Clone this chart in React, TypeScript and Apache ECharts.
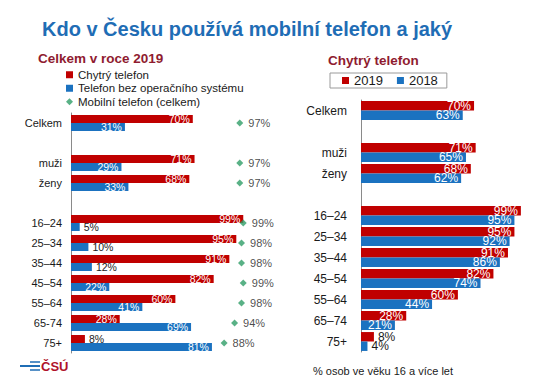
import React, { useEffect, useRef } from "react";
import * as echarts from "echarts";

const leftCategories = ["Celkem", "", "muži", "ženy", "", "16–24", "25–34", "35–44", "45–54", "55–64", "65-74", "75+"];
const rightCategories = ["Celkem", "", "muži", "ženy", "", "16–24", "25–34", "35–44", "45–54", "55–64", "65–74", "75+"];
const smart2019 = [70, null, 71, 68, null, 99, 95, 91, 82, 60, 28, 8];
const basicPhone2019 = [31, null, 29, 33, null, 5, 10, 12, 22, 41, 69, 81];
const mobileTotal2019 = [97, null, 97, 97, null, 99, 98, 98, 99, 98, 94, 88];
const smartRight2019 = [70, null, 71, 68, null, 99, 95, 91, 82, 60, 28, 8];
const smartRight2018 = [63, null, 65, 62, null, 95, 92, 86, 74, 44, 21, 4];

const RED = "#c00000";
const BLUE = "#1b72c0";
const GREEN = "#2f9e68";
const FONT = "'Liberation Sans', Arial, sans-serif";
const TXT = "#1a1a1a";

function barData(vals: (number | null)[], fontSize: number, lineHeight: number) {
  return vals.map((v) => {
    if (v === null) return null;
    const inside = v >= 15;
    return {
      value: v,
      label: {
        show: true,
        position: inside ? "insideRight" : "right",
        distance: inside ? 3 : 4,
        color: inside ? "#ffffff" : TXT,
        fontSize,
        lineHeight,
        fontFamily: FONT,
        formatter: "{c}%",
      },
    };
  });
}

export default function App() {
  const ref = useRef<HTMLDivElement>(null);
  useEffect(() => {
    if (!ref.current) return;
    const chart = echarts.init(ref.current, null, { renderer: "svg" });
    const option: any = {
      animation: false,
      backgroundColor: "#ffffff",
      textStyle: { fontFamily: FONT },
      graphic: [
        {
          type: "text",
          x: 42,
          y: 29,
          style: {
            text: "Kdo v Česku používá mobilní telefon a jaký",
            fontSize: 20,
            fontWeight: "bold",
            fontFamily: FONT,
            fill: "#1f6db5",
            verticalAlign: "middle",
          },
        },
        {
          type: "text",
          x: 38,
          y: 58,
          style: {
            text: "Celkem v roce 2019",
            fontSize: 13.5,
            fontWeight: "bold",
            fontFamily: FONT,
            fill: "#8f1c30",
            verticalAlign: "middle",
          },
        },
        {
          type: "text",
          x: 328,
          y: 60,
          style: {
            text: "Chytrý telefon",
            fontSize: 13.5,
            fontWeight: "bold",
            fontFamily: FONT,
            fill: "#8f1c30",
            verticalAlign: "middle",
          },
        },
        {
          type: "text",
          x: 313,
          y: 371,
          style: {
            text: "% osob ve věku 16 a více let",
            fontSize: 11,
            fontFamily: FONT,
            fill: TXT,
            verticalAlign: "middle",
          },
        },
        { type: "line", shape: { x1: 20, y1: 366, x2: 40, y2: 366 }, style: { stroke: "#1f6db5", lineWidth: 2 } },
        { type: "line", shape: { x1: 30, y1: 362, x2: 40, y2: 362 }, style: { stroke: "#1f6db5", lineWidth: 1.5 } },
        { type: "line", shape: { x1: 30, y1: 370, x2: 40, y2: 370 }, style: { stroke: "#1f6db5", lineWidth: 1.5 } },
        {
          type: "text",
          x: 41,
          y: 366,
          style: {
            text: "ČSÚ",
            fontSize: 13,
            fontWeight: "bold",
            fontFamily: FONT,
            fill: "#b0122a",
            verticalAlign: "middle",
          },
        },
      ],
      legend: [
        {
          orient: "vertical",
          left: 66,
          top: 68,
          itemWidth: 7,
          itemHeight: 7,
          itemGap: 0,
          padding: 0,
          textStyle: { fontSize: 11.5, color: TXT, fontFamily: FONT, lineHeight: 13.5 },
          data: [
            { name: "Chytrý telefon", icon: "rect" },
            { name: "Telefon bez operačního systému", icon: "rect" },
            { name: "Mobilní telefon (celkem)", icon: "diamond" },
          ],
        },
        {
          orient: "horizontal",
          left: 330,
          top: 73,
          itemWidth: 7,
          itemHeight: 7,
          itemGap: 14,
          padding: [1, 9, 1, 12],
          borderColor: "#9a9a9a",
          borderWidth: 1,
          textStyle: { fontSize: 13, color: TXT, fontFamily: FONT },
          data: [
            { name: "2019", icon: "rect" },
            { name: "2018", icon: "rect" },
          ],
        },
      ],
      grid: [
        { left: 71, top: 113, width: 174, height: 240 },
        { left: 361, top: 100, width: 161.5, height: 252 },
      ],
      xAxis: [
        { gridIndex: 0, type: "value", min: 0, max: 100, show: false },
        { gridIndex: 1, type: "value", min: 0, max: 100, show: false },
      ],
      yAxis: [
        {
          gridIndex: 0,
          type: "category",
          inverse: true,
          data: leftCategories,
          axisLine: { lineStyle: { color: "#8a8a8a" } },
          axisTick: { length: 3, lineStyle: { color: "#8a8a8a" } },
          axisLabel: { fontSize: 11, color: TXT, fontFamily: FONT, margin: 9, interval: 0 },
        },
        {
          gridIndex: 1,
          type: "category",
          inverse: true,
          data: rightCategories,
          axisLine: { lineStyle: { color: "#8a8a8a" } },
          axisTick: { length: 3, lineStyle: { color: "#8a8a8a" } },
          axisLabel: { fontSize: 12, color: TXT, fontFamily: FONT, margin: 14, interval: 0 },
        },
      ],
      series: [
        {
          name: "Chytrý telefon",
          type: "bar",
          xAxisIndex: 0,
          yAxisIndex: 0,
          data: barData(smart2019, 10.5, 8),
          itemStyle: { color: RED },
          barGap: "0%",
          barCategoryGap: "20%",
        },
        {
          name: "Telefon bez operačního systému",
          type: "bar",
          xAxisIndex: 0,
          yAxisIndex: 0,
          data: barData(basicPhone2019, 10.5, 8),
          itemStyle: { color: BLUE },
          barGap: "0%",
          barCategoryGap: "20%",
        },
        {
          name: "Mobilní telefon (celkem)",
          type: "scatter",
          xAxisIndex: 0,
          yAxisIndex: 0,
          symbol: "diamond",
          symbolSize: 7,
          itemStyle: { color: GREEN },
          data: mobileTotal2019.map((v) => (v === null ? null : v)),
          label: {
            show: true,
            position: "right",
            distance: 5,
            formatter: "{c}%",
            fontSize: 11,
            color: TXT,
            fontFamily: FONT,
          },
        },
        {
          name: "2019",
          type: "bar",
          xAxisIndex: 1,
          yAxisIndex: 1,
          data: barData(smartRight2019, 12, 9),
          itemStyle: { color: RED },
          barGap: "0%",
          barCategoryGap: "10%",
        },
        {
          name: "2018",
          type: "bar",
          xAxisIndex: 1,
          yAxisIndex: 1,
          data: barData(smartRight2018, 12, 9),
          itemStyle: { color: BLUE },
          barGap: "0%",
          barCategoryGap: "10%",
        },
      ],
    };
    chart.setOption(option);
    return () => chart.dispose();
  }, []);
  return (
    <div
      ref={ref}
      style={{ position: "absolute", left: 0, top: 0, width: 560, height: 387 }}
    />
  );
}
